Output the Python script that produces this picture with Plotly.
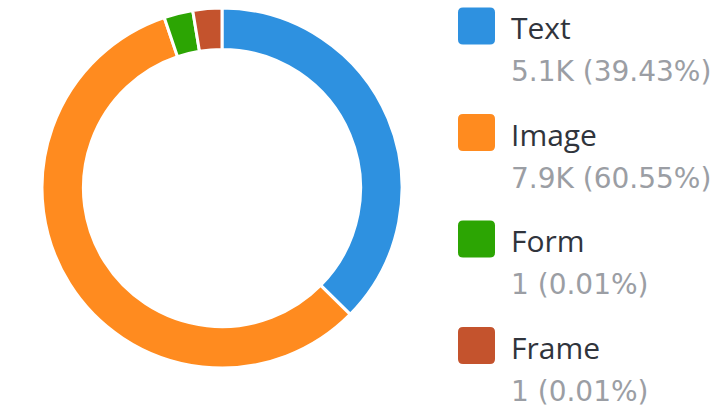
import plotly.graph_objects as go

# ---- data ----
categories = ["Text", "Image", "Form", "Frame"]
count_labels = ["5.1K", "7.9K", "1", "1"]
shares_pct = [39.43, 60.55, 0.01, 0.01]

# ---- style ----
colors = ["#2E91E0", "#FF8B1F", "#2CA503", "#C4532D"]
MIN_SLICE = 0.026          # minimum visible slice fraction (as in the source chart)
W, H = 719, 413
LABEL_COLOR = "#30343c"
VALUE_COLOR = "#9b9ea4"

# slice sizes with a minimum-visible-slice rule
tot = sum(shares_pct)
frac = [s / tot for s in shares_pct]
small = [f < MIN_SLICE for f in frac]
reserved = MIN_SLICE * sum(small)
big_tot = sum(f for f, s in zip(frac, small) if not s)
display = [MIN_SLICE if s else f / big_tot * (1 - reserved) for f, s in zip(frac, small)]

fig = go.Figure()
cx, cy, R = 222, 188, 180
fig.add_trace(go.Pie(
    labels=categories,
    values=display,
    sort=False,
    direction="clockwise",
    rotation=0,
    hole=0.77,
    marker=dict(colors=colors, line=dict(color="white", width=3)),
    textinfo="none",
    hoverinfo="label",
    showlegend=False,
    domain=dict(x=[(cx - R) / W, (cx + R) / W], y=[(H - cy - R) / H, (H - cy + R) / H]),
))

def px(x):
    return x / W

def py(y):
    return 1 - y / H

shapes = []
annotations = []
sq_x0, sq_size, rad = 458, 37, 5
first_center, pitch = 27.5, 106.5
for i, (cat, cl, sh, col) in enumerate(zip(categories, count_labels, shares_pct, colors)):
    c = first_center + i * pitch
    top = c - 20
    x0, x1 = sq_x0, sq_x0 + sq_size
    y0, y1 = top, top + sq_size
    path = (
        f"M {px(x0 + rad)} {py(y0)} L {px(x1 - rad)} {py(y0)} "
        f"Q {px(x1)} {py(y0)} {px(x1)} {py(y0 + rad)} "
        f"L {px(x1)} {py(y1 - rad)} Q {px(x1)} {py(y1)} {px(x1 - rad)} {py(y1)} "
        f"L {px(x0 + rad)} {py(y1)} Q {px(x0)} {py(y1)} {px(x0)} {py(y1 - rad)} "
        f"L {px(x0)} {py(y0 + rad)} Q {px(x0)} {py(y0)} {px(x0 + rad)} {py(y0)} Z"
    )
    shapes.append(dict(type="path", xref="paper", yref="paper", path=path,
                       fillcolor=col, line=dict(width=0)))
    annotations.append(dict(
        x=px(509), y=py(c), xref="paper", yref="paper", xanchor="left", yanchor="middle",
        text=cat, showarrow=False,
        font=dict(family="Open Sans", size=30, color=LABEL_COLOR)))
    annotations.append(dict(
        x=px(509), y=py(c + 44.2), xref="paper", yref="paper", xanchor="left", yanchor="middle",
        text=f"{cl} ({sh:.2f}%)", showarrow=False,
        font=dict(family="DejaVu Sans", size=28, color=VALUE_COLOR)))

fig.update_layout(
    width=W, height=H,
    margin=dict(l=0, r=0, t=0, b=0),
    paper_bgcolor="white", plot_bgcolor="white",
    shapes=shapes, annotations=annotations,
)

fig.write_html(
    "out.html",
    config={"displayModeBar": False},
    post_script="document.body.style.margin='0';document.body.style.overflow='hidden';",
)
